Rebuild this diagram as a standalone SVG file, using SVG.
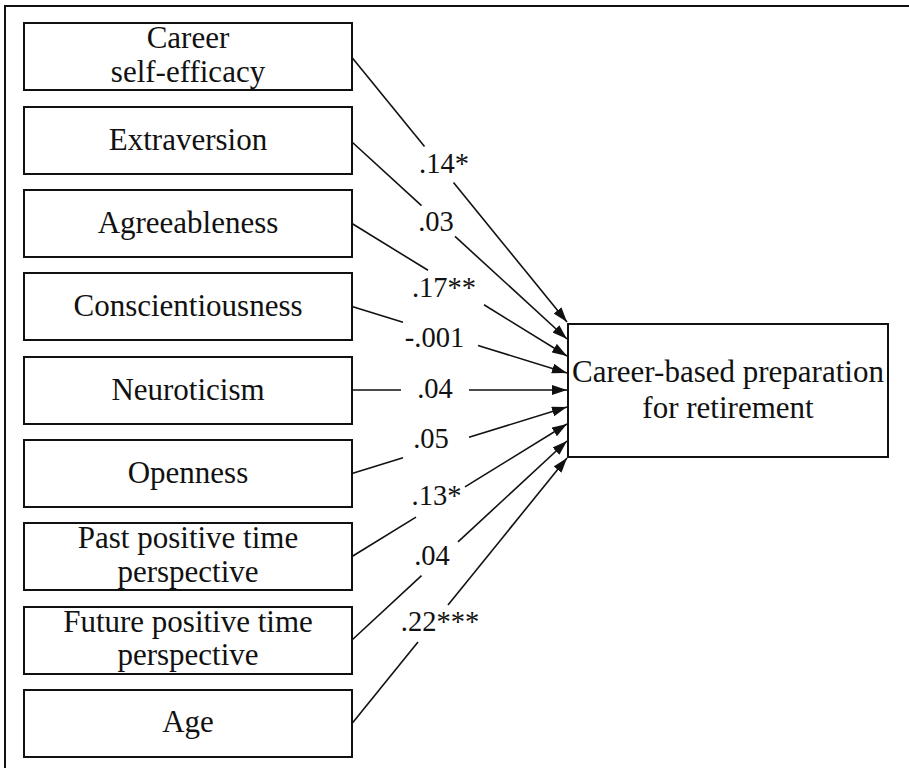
<svg xmlns="http://www.w3.org/2000/svg" width="909" height="768" viewBox="0 0 909 768">
  <style>
    .box { fill: #ffffff; stroke: #111111; stroke-width: 2; }
    .name { font-family: "Liberation Serif", "Times New Roman", serif; font-size: 31px; fill: #111111; text-anchor: middle; }
    .coef { font-family: "Liberation Serif", "Times New Roman", serif; font-size: 28.5px; fill: #111111; text-anchor: middle; }
    .path { fill: none; stroke: #111111; stroke-width: 1.6; }
  </style>
  <defs>
    <marker id="arrow" markerUnits="userSpaceOnUse" markerWidth="16" markerHeight="11" refX="15" refY="5" orient="auto">
      <path d="M0,0 L15,5 L0,10 z" fill="#111111"/>
    </marker>
  </defs>

  <rect x="0" y="0" width="909" height="768" fill="#ffffff"/>
  <!-- outer frame (top and left edges visible) -->
  <path d="M5,768 V6 H909" fill="none" stroke="#111111" stroke-width="2"/>

  <!-- predictors -->
  <g id="career-self-efficacy">
    <rect class="box" x="24" y="23" width="328" height="67"/>
    <text class="name" x="188" y="48">Career</text>
    <text class="name" x="188" y="82">self-efficacy</text>
  </g>
  <g id="extraversion">
    <rect class="box" x="24" y="107" width="328" height="67"/>
    <text class="name" x="188" y="150">Extraversion</text>
  </g>
  <g id="agreeableness">
    <rect class="box" x="24" y="190" width="328" height="67"/>
    <text class="name" x="188" y="233">Agreeableness</text>
  </g>
  <g id="conscientiousness">
    <rect class="box" x="24" y="273" width="328" height="67"/>
    <text class="name" x="188" y="316">Conscientiousness</text>
  </g>
  <g id="neuroticism">
    <rect class="box" x="24" y="357" width="328" height="67"/>
    <text class="name" x="188" y="400">Neuroticism</text>
  </g>
  <g id="openness">
    <rect class="box" x="24" y="440" width="328" height="67"/>
    <text class="name" x="188" y="483">Openness</text>
  </g>
  <g id="past-positive">
    <rect class="box" x="24" y="523" width="328" height="67"/>
    <text class="name" x="188" y="548">Past positive time</text>
    <text class="name" x="188" y="582">perspective</text>
  </g>
  <g id="future-positive">
    <rect class="box" x="24" y="607" width="328" height="67"/>
    <text class="name" x="188" y="632">Future positive time</text>
    <text class="name" x="188" y="665">perspective</text>
  </g>
  <g id="age">
    <rect class="box" x="24" y="690" width="328" height="67"/>
    <text class="name" x="188" y="732">Age</text>
  </g>

  <!-- outcome -->
  <g id="career-based-preparation">
    <rect class="box" x="568" y="324" width="320" height="133"/>
    <text class="name" x="728" y="382">Career-based preparation</text>
    <text class="name" x="728" y="418">for retirement</text>
  </g>

  <!-- paths with coefficients -->
  <g id="connectors">
    <path class="path" d="M352,57.5 L424.5,146.5"/>
    <path class="path" d="M453.5,182.5 L567,322" marker-end="url(#arrow)"/>
    <text class="coef" x="444" y="173">.14*</text>

    <path class="path" d="M352,142 L421.5,205.7"/>
    <path class="path" d="M455,236.4 L567,339" marker-end="url(#arrow)"/>
    <text class="coef" x="436" y="231">.03</text>

    <path class="path" d="M352,223.5 L428,270.3"/>
    <path class="path" d="M484,304.8 L567,356" marker-end="url(#arrow)"/>
    <text class="coef" x="444" y="297">.17**</text>

    <path class="path" d="M352,306.5 L403,322.3"/>
    <path class="path" d="M478,345.5 L567,373" marker-end="url(#arrow)"/>
    <text class="coef" x="434.5" y="347">-.001</text>

    <path class="path" d="M352,390 L401,390"/>
    <path class="path" d="M469,390 L567,390" marker-end="url(#arrow)"/>
    <text class="coef" x="435" y="398">.04</text>

    <path class="path" d="M352,473.5 L403,457.7"/>
    <path class="path" d="M469,437.3 L567,407" marker-end="url(#arrow)"/>
    <text class="coef" x="431" y="448">.05</text>

    <path class="path" d="M352,556.5 L416,517.1"/>
    <path class="path" d="M465,486.9 L567,424" marker-end="url(#arrow)"/>
    <text class="coef" x="436.5" y="505">.13*</text>

    <path class="path" d="M352,640 L421.5,575.7"/>
    <path class="path" d="M458,541.9 L567,441" marker-end="url(#arrow)"/>
    <text class="coef" x="432" y="564.5">.04</text>

    <path class="path" d="M352,723.5 L418,642"/>
    <path class="path" d="M448,605 L567,458" marker-end="url(#arrow)"/>
    <text class="coef" x="440" y="631">.22***</text>
  </g>
</svg>
